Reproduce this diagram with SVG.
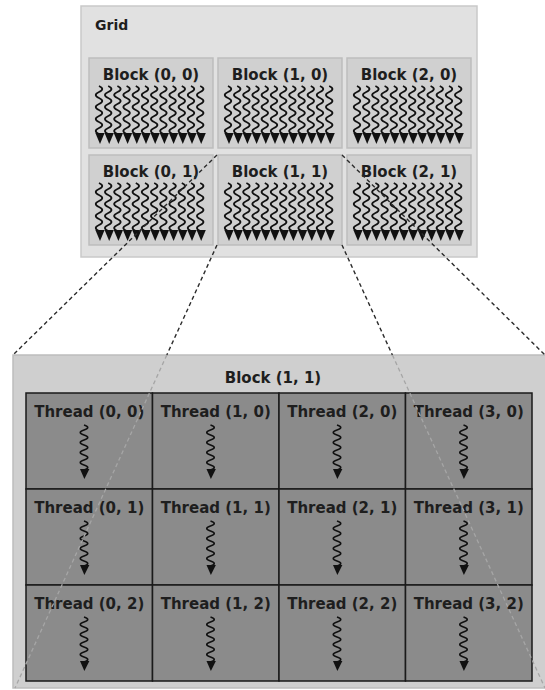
<svg xmlns="http://www.w3.org/2000/svg" xmlns:xlink="http://www.w3.org/1999/xlink" width="545" height="690" viewBox="0 0 545 690">
<style>
  .lbl { font-family: "DejaVu Sans", Verdana, sans-serif; font-weight: bold; font-size: 15px; fill: #1e1e1e; text-anchor: middle; }
  .grid { fill: #e1e1e1; stroke: #c9c9c9; stroke-width: 1.5; }
  .block { fill: #d0d0d0; stroke: #bdbdbd; stroke-width: 1.5; }
  .panel { fill: #cfcfcf; stroke: #bdbdbd; stroke-width: 1.5; }
  .cell { fill: #8b8b8b; stroke: #1a1a1a; stroke-width: 1.5; }
  .wave { fill: none; stroke: #111; stroke-width: 1.8; }
  .head { fill: #111; }
  .dash { fill: none; stroke: #2b2b2b; stroke-width: 1.4; stroke-dasharray: 4 3; }
  .faint { fill: none; stroke: #a6a6a6; stroke-width: 1.3; stroke-dasharray: 4 3; }
</style>
<defs>
  <g id="w1">
    <path class="wave" d="M-1,28 q6.5,3 0,6 t0,6 t0,6 t0,6 t0,6 t0,6 t0,6 t0,6"/>
    <polygon class="head" points="-4.6,75 4.6,75 0,86"/>
  </g>
  <g id="warp">
    <use xlink:href="#w1" x="11"/>
    <use xlink:href="#w1" x="20.2"/>
    <use xlink:href="#w1" x="29.4"/>
    <use xlink:href="#w1" x="38.6"/>
    <use xlink:href="#w1" x="47.8"/>
    <use xlink:href="#w1" x="57"/>
    <use xlink:href="#w1" x="66.2"/>
    <use xlink:href="#w1" x="75.4"/>
    <use xlink:href="#w1" x="84.6"/>
    <use xlink:href="#w1" x="93.8"/>
    <use xlink:href="#w1" x="103"/>
    <use xlink:href="#w1" x="112.2"/>
  </g>
  <g id="t1">
    <path class="wave" style="stroke-width:1.6" d="M-1,32 q7.5,2.5 0,5 t0,5 t0,5 t0,5 t0,5 t0,5 t0,5 t0,5 t0,5"/>
    <polygon class="head" points="-5,76 4.4,76 -0.6,86"/>
  </g>
</defs>

<g id="grid">
  <rect class="grid" x="81" y="6" width="396" height="251"/>
  <text x="95" y="30" class="lbl" style="text-anchor:start;font-size:14px">Grid</text>
</g>

<g id="block-0-0">
  <rect class="block" x="89" y="58" width="124" height="90"/>
  <text class="lbl" x="151" y="80">Block (0, 0)</text>
  <use xlink:href="#warp" x="89" y="58"/>
</g>
<g id="block-1-0">
  <rect class="block" x="218" y="58" width="124" height="90"/>
  <text class="lbl" x="280" y="80">Block (1, 0)</text>
  <use xlink:href="#warp" x="218" y="58"/>
</g>
<g id="block-2-0">
  <rect class="block" x="347" y="58" width="124" height="90"/>
  <text class="lbl" x="409" y="80">Block (2, 0)</text>
  <use xlink:href="#warp" x="347" y="58"/>
</g>
<g id="block-0-1">
  <rect class="block" x="89" y="155" width="124" height="90"/>
  <text class="lbl" x="151" y="177">Block (0, 1)</text>
  <use xlink:href="#warp" x="89" y="155"/>
</g>
<g id="block-1-1">
  <rect class="block" x="218" y="155" width="124" height="90"/>
  <text class="lbl" x="280" y="177">Block (1, 1)</text>
  <use xlink:href="#warp" x="218" y="155"/>
</g>
<g id="block-2-1">
  <rect class="block" x="347" y="155" width="124" height="90"/>
  <text class="lbl" x="409" y="177">Block (2, 1)</text>
  <use xlink:href="#warp" x="347" y="155"/>
</g>

<g id="block-detail">
  <rect class="panel" x="13" y="355" width="540" height="333"/>
  <text class="lbl" x="273" y="383">Block (1, 1)</text>
</g>

<g id="thread-0-0"><rect class="cell" x="26" y="393" width="126.5" height="96"/><text class="lbl" x="89.25" y="417">Thread (0, 0)</text><use xlink:href="#t1" x="85" y="393"/></g>
<g id="thread-1-0"><rect class="cell" x="152.5" y="393" width="126.5" height="96"/><text class="lbl" x="215.75" y="417">Thread (1, 0)</text><use xlink:href="#t1" x="211.5" y="393"/></g>
<g id="thread-2-0"><rect class="cell" x="279" y="393" width="126.5" height="96"/><text class="lbl" x="342.25" y="417">Thread (2, 0)</text><use xlink:href="#t1" x="338" y="393"/></g>
<g id="thread-3-0"><rect class="cell" x="405.5" y="393" width="126.5" height="96"/><text class="lbl" x="468.75" y="417">Thread (3, 0)</text><use xlink:href="#t1" x="464.5" y="393"/></g>

<g id="thread-0-1"><rect class="cell" x="26" y="489" width="126.5" height="96"/><text class="lbl" x="89.25" y="513">Thread (0, 1)</text><use xlink:href="#t1" x="85" y="489"/></g>
<g id="thread-1-1"><rect class="cell" x="152.5" y="489" width="126.5" height="96"/><text class="lbl" x="215.75" y="513">Thread (1, 1)</text><use xlink:href="#t1" x="211.5" y="489"/></g>
<g id="thread-2-1"><rect class="cell" x="279" y="489" width="126.5" height="96"/><text class="lbl" x="342.25" y="513">Thread (2, 1)</text><use xlink:href="#t1" x="338" y="489"/></g>
<g id="thread-3-1"><rect class="cell" x="405.5" y="489" width="126.5" height="96"/><text class="lbl" x="468.75" y="513">Thread (3, 1)</text><use xlink:href="#t1" x="464.5" y="489"/></g>

<g id="thread-0-2"><rect class="cell" x="26" y="585" width="126.5" height="96"/><text class="lbl" x="89.25" y="609">Thread (0, 2)</text><use xlink:href="#t1" x="85" y="585"/></g>
<g id="thread-1-2"><rect class="cell" x="152.5" y="585" width="126.5" height="96"/><text class="lbl" x="215.75" y="609">Thread (1, 2)</text><use xlink:href="#t1" x="211.5" y="585"/></g>
<g id="thread-2-2"><rect class="cell" x="279" y="585" width="126.5" height="96"/><text class="lbl" x="342.25" y="609">Thread (2, 2)</text><use xlink:href="#t1" x="338" y="585"/></g>
<g id="thread-3-2"><rect class="cell" x="405.5" y="585" width="126.5" height="96"/><text class="lbl" x="468.75" y="609">Thread (3, 2)</text><use xlink:href="#t1" x="464.5" y="585"/></g>

<g id="connectors">
  <path class="dash" d="M217,155 L13,355"/>
  <path class="dash" d="M342,155 L547,357"/>
  <path class="dash" d="M217,245 L166.8,355"/>
  <path class="dash" d="M342,245 L392.4,355"/>
  <path class="faint" d="M166.8,355 L15,688"/>
  <path class="faint" d="M392.4,355 L545,688"/>
</g>
</svg>
